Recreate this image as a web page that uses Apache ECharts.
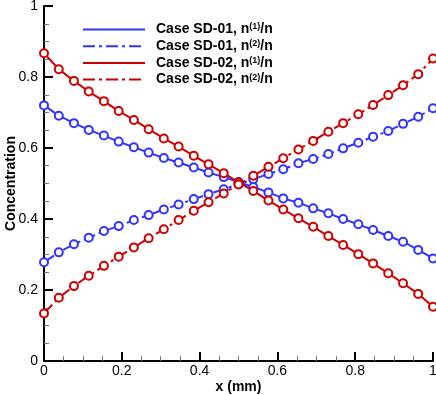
<!DOCTYPE html>
<html>
<head>
<meta charset="utf-8">
<script src="https://cdn.jsdelivr.net/npm/echarts@6/dist/echarts.min.js"></script>
<style>
html, body { margin: 0; padding: 0; background: #fff; }
#chart { width: 436px; height: 395px; }
</style>
</head>
<body>
<div id="chart"></div>
<script>
// x positions of the sampled points (mm)
var xs = [0, 0.038, 0.077, 0.115, 0.154, 0.192, 0.231, 0.269, 0.308, 0.346, 0.385, 0.423, 0.462, 0.5,
          0.538, 0.577, 0.615, 0.654, 0.692, 0.731, 0.769, 0.808, 0.846, 0.885, 0.923, 0.962, 1];

var sd01N1 = [0.720, 0.691, 0.670, 0.651, 0.635, 0.618, 0.602, 0.587, 0.572, 0.559, 0.545, 0.531, 0.518, 0.504,
              0.490, 0.475, 0.458, 0.446, 0.430, 0.416, 0.400, 0.385, 0.369, 0.352, 0.336, 0.313, 0.289];
var sd01N2 = [0.278, 0.306, 0.329, 0.347, 0.366, 0.380, 0.397, 0.411, 0.427, 0.441, 0.456, 0.470, 0.484, 0.498,
              0.512, 0.527, 0.540, 0.557, 0.569, 0.583, 0.599, 0.615, 0.632, 0.648, 0.668, 0.688, 0.712];
var sd02N1 = [0.867, 0.822, 0.789, 0.759, 0.732, 0.704, 0.679, 0.653, 0.627, 0.604, 0.578, 0.554, 0.529, 0.503,
              0.479, 0.452, 0.427, 0.402, 0.378, 0.352, 0.327, 0.301, 0.275, 0.247, 0.219, 0.189, 0.153];
var sd02N2 = [0.134, 0.178, 0.211, 0.240, 0.268, 0.294, 0.320, 0.346, 0.371, 0.397, 0.423, 0.447, 0.472, 0.497,
              0.522, 0.547, 0.571, 0.596, 0.620, 0.646, 0.670, 0.695, 0.721, 0.749, 0.777, 0.808, 0.852];

var seriesNames = ['Case SD-01, n(1)/n', 'Case SD-01, n(2)/n', 'Case SD-02, n(1)/n', 'Case SD-02, n(2)/n'];
var seriesData = [sd01N1, sd01N2, sd02N1, sd02N2];
var seriesColors = ['#3333ff', '#3333ff', '#cc0000', '#cc0000'];
var seriesDash = ['solid', [12, 4, 3, 4], 'solid', [12, 4, 3, 4]];

var FONT = 'Liberation Sans, Arial, Helvetica, sans-serif';

function pairs(ys) {
    return ys.map(function (y, i) { return [xs[i], y]; });
}

var chart = echarts.init(document.getElementById('chart'), null, { renderer: 'canvas' });

var axisCommon = {
    type: 'value',
    min: 0,
    max: 1,
    interval: 0.2,
    nameLocation: 'middle',
    nameMoveOverlap: false,
    nameTextStyle: { fontFamily: FONT, fontWeight: 'bold', fontSize: 14, color: '#000' },
    axisLine: { show: true, onZero: false, lineStyle: { color: '#000', width: 2 } },
    axisTick: { show: true, inside: true, length: 9, lineStyle: { color: '#000', width: 2 } },
    minorTick: { show: true, splitNumber: 4, length: 5, lineStyle: { color: '#777', width: 1 } },
    splitLine: { show: false }
};

chart.setOption({
    animation: false,
    grid: { left: 44, right: 3, top: 6, bottom: 34, containLabel: false, outerBoundsMode: 'none' },
    legend: {
        orient: 'vertical',
        left: 82,
        top: 22.5,
        padding: 0,
        itemWidth: 62,
        itemHeight: 14,
        itemGap: 2.7,
        selectedMode: false,
        itemStyle: { opacity: 0 },
        textStyle: {
            fontFamily: FONT, fontWeight: 'bold', fontSize: 14, color: '#000', lineHeight: 14,
            padding: [0, 0, 0, 6],
            rich: {
                s: { fontFamily: FONT, fontWeight: 'bold', fontSize: 9, color: '#000', verticalAlign: 'top', lineHeight: 8 }
            }
        },
        formatter: function (name) {
            return name.replace(/\((\d)\)/, '{s|($1)}');
        },
        data: seriesNames
    },
    xAxis: Object.assign({}, axisCommon, {
        name: 'x (mm)',
        nameGap: 19.5,
        axisLabel: { fontFamily: FONT, fontSize: 14, color: '#000', margin: 3 }
    }),
    yAxis: Object.assign({}, axisCommon, {
        name: 'Concentration',
        nameGap: 26,
        axisLabel: { fontFamily: FONT, fontSize: 14, color: '#000', margin: 6 }
    }),
    series: seriesNames.map(function (name, k) {
        return {
            name: name,
            type: 'line',
            data: pairs(seriesData[k]),
            clip: false,
            symbol: 'emptyCircle',
            symbolSize: 8,
            color: seriesColors[k],
            itemStyle: { color: seriesColors[k], borderWidth: 1.5 },
            lineStyle: { color: seriesColors[k], width: 2, type: seriesDash[k] }
        };
    })
});
</script>
</body>
</html>
